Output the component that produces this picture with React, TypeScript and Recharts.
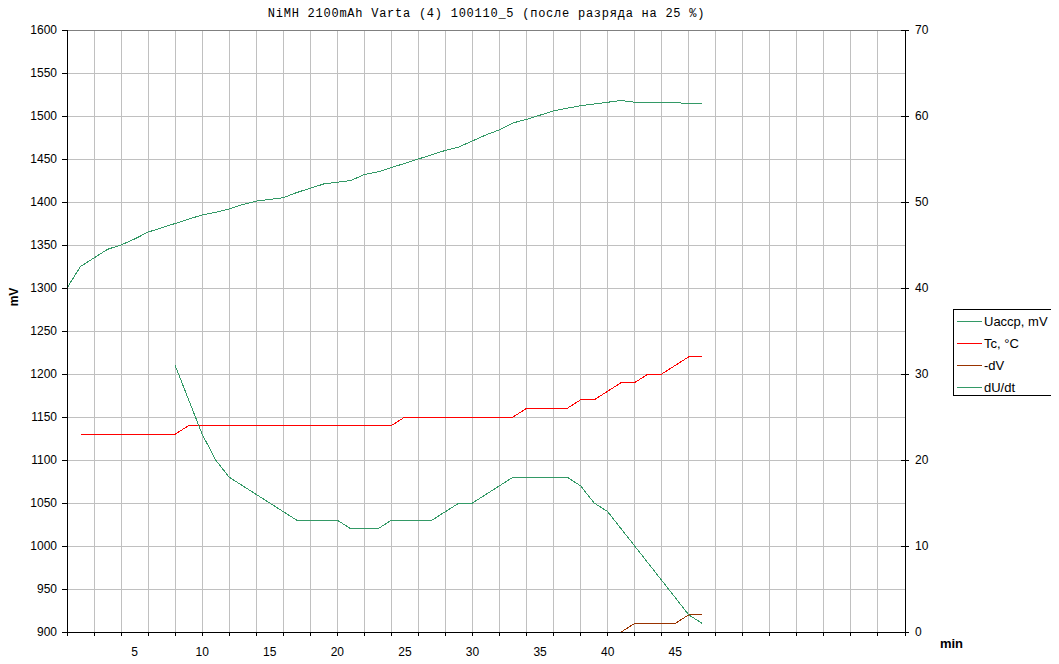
import { LineChart, Line, XAxis, YAxis, CartesianGrid, Legend, Label, ReferenceLine } from 'recharts';

const title = 'NiMH 2100mAh Varta (4) 100110_5 (после разряда на 25 %)';

// minutes from start of charge
const minutes = Array.from({ length: 48 }, (_, i) => i);

// battery voltage, mV (left axis)
const uaccp = [
  1300, 1325, 1335, 1345, 1350, 1357, 1365, 1370, 1375, 1380, 1385, 1388,
  1392, 1397, 1401, 1403, 1405, 1411, 1416, 1421, 1423, 1425, 1432, 1435,
  1440, 1445, 1450, 1455, 1460, 1464, 1471, 1478, 1484, 1492, 1496, 1501,
  1506, 1509, 1512, 1514, 1516, 1518, 1516, 1516, 1516, 1516, 1514, 1514,
];

// cell temperature, °C (right axis)
const tc = [
  null, 23, 23, 23, 23, 23, 23, 23, 23, 24, 24, 24,
  24, 24, 24, 24, 24, 24, 24, 24, 24, 24, 24, 24,
  24, 25, 25, 25, 25, 25, 25, 25, 25, 25, 26, 26,
  26, 26, 27, 27, 28, 29, 29, 30, 30, 31, 32, 32,
];

// -dV (right axis)
const minusDV = [
  null, null, null, null, null, null, null, null, null, null, null, null,
  null, null, null, null, null, null, null, null, null, null, null, null,
  null, null, null, null, null, null, null, null, null, null, null, null,
  null, null, null, null, null, 0, 1, 1, 1, 1, 2, 2,
];

// dU/dt (right axis)
const dUdt = [
  null, null, null, null, null, null, null, null, 31, 27, 23, 20,
  18, 17, 16, 15, 14, 13, 13, 13, 13, 12, 12, 12,
  13, 13, 13, 13, 14, 15, 15, 16, 17, 18, 18, 18,
  18, 18, 17, 15, 14, 12, 10, 8, 6, 4, 2, 1,
];

const leftTicks = [900, 950, 1000, 1050, 1100, 1150, 1200, 1250, 1300, 1350, 1400, 1450, 1500, 1550, 1600];
const rightTicks = [0, 10, 20, 30, 40, 50, 60, 70];
const xLabelTicks = [5, 10, 15, 20, 25, 30, 35, 40, 45];
const xGridTicks = Array.from({ length: 32 }, (_, i) => i * 2);
const xAxisTicks = Array.from(new Set([...xGridTicks, ...xLabelTicks])).sort((a, b) => a - b);

const data = minutes.map((t, i) => ({
  t,
  uaccp: uaccp[i],
  tc: tc[i],
  dv: minusDV[i],
  dudt: dUdt[i],
}));

const series = [
  { key: 'uaccp', name: 'Uaccp, mV', color: '#339966', axis: 'left' },
  { key: 'tc', name: 'Tc, °C', color: '#ff0000', axis: 'right' },
  { key: 'dv', name: '-dV', color: '#993300', axis: 'right' },
  { key: 'dudt', name: 'dU/dt', color: '#339966', axis: 'right' },
];

const XTick = ({ x, y, payload }: any) => {
  const v = payload.value;
  const axisY = y - 15;
  return (
    <g>
      {v % 2 === 0 && <line x1={x} x2={x} y1={axisY} y2={axisY + 4} stroke="#000" shapeRendering="crispEdges" />}
      {xLabelTicks.includes(v) && (
        <text x={x} y={y} dy="0.71em" textAnchor="middle" fontSize={12} fill="#000">
          {v}
        </text>
      )}
    </g>
  );
};

const RightTick = ({ x, y, payload }: any) => {
  const axisX = x - 10;
  return (
    <g>
      <line x1={axisX - 4} x2={axisX + 4} y1={y} y2={y} stroke="#000" shapeRendering="crispEdges" />
      <text x={x} y={y} dy="0.355em" textAnchor="start" fontSize={12} fill="#000">
        {payload.value}
      </text>
    </g>
  );
};

const renderMv = ({ viewBox }: any) => {
  const cx = viewBox.x + 6;
  const cy = viewBox.y + viewBox.height / 2 - 34;
  return (
    <text x={cx} y={cy} transform={`rotate(-90, ${cx}, ${cy})`} textAnchor="middle" dominantBaseline="central" fontSize={12} fontWeight="bold" fill="#000">
      mV
    </text>
  );
};

const renderMin = ({ viewBox }: any) => (
  <text x={viewBox.x + viewBox.width + 46.5} y={viewBox.y + 11} textAnchor="middle" dominantBaseline="central" fontSize={13} fontWeight="bold" fill="#000">
    min
  </text>
);

const renderLegend = () => (
  <div style={{ width: 103, height: 87, boxSizing: 'border-box', border: '1px solid #000', background: '#fff', position: 'relative', fontSize: 13, color: '#000' }}>
    {series.map((s, i) => (
      <div key={s.key} style={{ position: 'absolute', left: 3, top: 2 + i * 22, height: 18, display: 'flex', alignItems: 'center', whiteSpace: 'nowrap' }}>
        <span style={{ display: 'inline-block', width: 25, height: 0, borderTop: `1px solid ${s.color}` }} />
        <span style={{ marginLeft: 2 }}>{s.name}</span>
      </div>
    ))}
  </div>
);

export default function App() {
  return (
    <div style={{ position: 'relative', width: 1043, height: 648, fontFamily: 'Arial, "Liberation Sans", sans-serif' }}>
      <style>{'.recharts-surface{overflow:visible}'}</style>
      <div
        style={{
          position: 'absolute',
          left: 178.5,
          top: -1,
          width: 600,
          textAlign: 'center',
          fontFamily: '"Liberation Mono", monospace',
          fontSize: 12,
          lineHeight: '14px',
          letterSpacing: 0.75,
          whiteSpace: 'pre',
          zIndex: 2,
        }}
      >
        {title}
      </div>
      <LineChart width={1043} height={648} data={data} margin={{ top: 22, right: 0, bottom: 0, left: 0 }}>
        <XAxis
          xAxisId="main"
          dataKey="t"
          type="number"
          domain={[0, 62]}
          ticks={xAxisTicks}
          interval={0}
          height={24}
          tickSize={4}
          tickMargin={11}
          tickLine={false}
          axisLine={{ stroke: '#000', shapeRendering: 'crispEdges' }}
          tick={<XTick />}
        >
          <Label content={renderMin} />
        </XAxis>
        <XAxis xAxisId="grid" dataKey="t" type="number" domain={[0, 62]} ticks={xGridTicks} height={0} hide />
        <YAxis
          yAxisId="left"
          orientation="left"
          domain={[900, 1600]}
          ticks={leftTicks}
          interval={0}
          width={59}
          tickSize={5}
          tickMargin={5}
          axisLine={{ stroke: '#000', shapeRendering: 'crispEdges' }}
          tickLine={{ stroke: '#000', shapeRendering: 'crispEdges' }}
          tick={{ fill: '#000', fontSize: 12 }}
        >
          <Label content={renderMv} />
        </YAxis>
        <YAxis
          yAxisId="right"
          orientation="right"
          domain={[0, 70]}
          ticks={rightTicks}
          interval={0}
          width={43}
          tickSize={4}
          tickMargin={6}
          tickLine={false}
          axisLine={{ stroke: '#000', shapeRendering: 'crispEdges' }}
          tick={<RightTick />}
        />
        <CartesianGrid xAxisId="grid" yAxisId="left" stroke="#c0c0c0" shapeRendering="crispEdges" />
        <ReferenceLine xAxisId="main" yAxisId="left" y={1600} stroke="#808080" shapeRendering="crispEdges" />
        <Legend
          layout="vertical"
          align="right"
          verticalAlign="middle"
          content={renderLegend}
          wrapperStyle={{ top: 301, right: -5 }}
        />
        {series.map((s) => (
          <Line
            key={s.key}
            type="linear"
            xAxisId="main"
            yAxisId={s.axis}
            dataKey={s.key}
            name={s.name}
            stroke={s.color}
            strokeWidth={1}
            shapeRendering="crispEdges"
            dot={false}
            activeDot={false}
            isAnimationActive={false}
          />
        ))}
      </LineChart>
    </div>
  );
}
